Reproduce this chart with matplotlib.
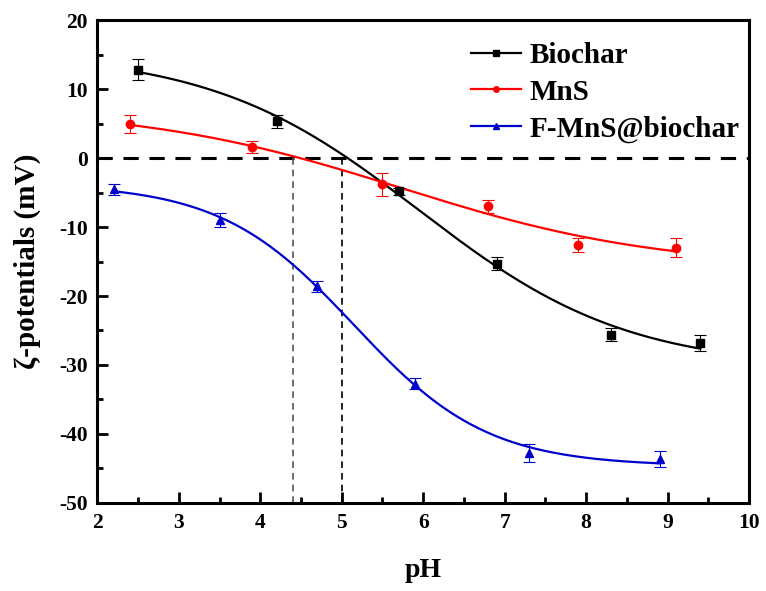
import numpy as np
import matplotlib
matplotlib.use("Agg")
from matplotlib import pyplot as plt
from matplotlib.ticker import MultipleLocator

plt.rcParams['font.family'] = ['Liberation Serif', 'DejaVu Serif']
plt.rcParams['font.weight'] = 'bold'
plt.rcParams['axes.unicode_minus'] = False

# data
ph_bio = [2.5, 4.2, 5.7, 6.9, 8.3, 9.4]
zeta_bio = [12.8, 5.3, -4.8, -15.3, -25.6, -26.8]
err_bio = [1.5, 1.0, 0.5, 1.0, 0.9, 1.2]

ph_mns = [2.4, 3.9, 5.5, 6.8, 7.9, 9.1]
zeta_mns = [4.9, 1.6, -3.8, -7.0, -12.6, -13.0]
err_mns = [1.3, 0.9, 1.7, 0.9, 1.0, 1.4]

ph_fmns = [2.2, 3.5, 4.7, 5.9, 7.3, 8.9]
zeta_fmns = [-4.5, -9.0, -18.6, -32.7, -42.8, -43.6]
err_fmns = [0.8, 1.0, 0.8, 0.8, 1.3, 1.2]

pzc = [4.4, 5.0]


def boltzmann_fit(x, y):
    # grid over x0/dx, A1/A2 by linear least squares
    x = np.asarray(x); y = np.asarray(y)
    best = None
    for x0 in np.linspace(3, 8, 201):
        for dx in np.linspace(0.3, 3, 136):
            s = 1 / (1 + np.exp((x - x0) / dx))
            M = np.column_stack([s, 1 - s])
            coef, *_ = np.linalg.lstsq(M, y, rcond=None)
            r = np.sum((M @ coef - y) ** 2)
            if best is None or r < best[0]:
                best = (r, x0, dx, coef)
    _, x0, dx, (a1, a2) = best
    xs = np.linspace(x.min(), x.max(), 200)
    s = 1 / (1 + np.exp((xs - x0) / dx))
    return xs, a1 * s + a2 * (1 - s)


fig, ax = plt.subplots(figsize=(7.66, 5.91), dpi=100)
fig.subplots_adjust(left=0.127, right=0.978, top=0.966, bottom=0.149)

ax.axhline(0, color='black', lw=2.2, ls=(0, (5, 3.5)), zorder=1)
ax.plot([pzc[0], pzc[0]], [-50, 0], color='#555555', lw=1.2, ls=(0, (4, 3)), zorder=1)
ax.plot([pzc[1], pzc[1]], [-50, 0], color='black', lw=1.2, ls=(0, (4, 3)), zorder=1)

series = [
    (ph_bio, zeta_bio, err_bio, 'black', 's', 'Biochar'),
    (ph_mns, zeta_mns, err_mns, 'red', 'o', 'MnS'),
    (ph_fmns, zeta_fmns, err_fmns, '#0000cc', '^', 'F-MnS@biochar'),
]
for x, y, e, c, m, lab in series:
    xs, ys = boltzmann_fit(x, y)
    ax.plot(xs, ys, color=c, lw=1.6, zorder=2)
    ax.errorbar(x, y, yerr=e, fmt='none', ecolor=c, elinewidth=0.8, capsize=4, capthick=0.8, zorder=3)
    ax.plot(x, y, ls='none', marker=m, color=c, ms=6, zorder=4)
    ax.plot([], [], color=c, marker=m, ms=4, lw=1.6, label=lab)

ax.set_xlim(2, 10)
ax.set_ylim(-50, 20)
ax.xaxis.set_major_locator(MultipleLocator(1))
ax.xaxis.set_minor_locator(MultipleLocator(0.5))
ax.yaxis.set_major_locator(MultipleLocator(10))
ax.yaxis.set_minor_locator(MultipleLocator(5))
ax.tick_params(which='both', direction='in', width=2, labelsize=15.5, top=False, right=False)
ax.tick_params(which='major', length=8, pad=7)
ax.tick_params(which='minor', length=4)
for sp in ax.spines.values():
    sp.set_linewidth(2.2)

ax.set_xlabel('pH', fontsize=20, fontweight='bold', labelpad=18)
ax.set_ylabel('ζ-potentials (mV)', fontsize=21, fontweight='bold', labelpad=13)

leg = ax.legend(loc='upper right', bbox_to_anchor=(1.017, 0.997), frameon=False, fontsize=21,
                handlelength=1.7, handletextpad=0.3, labelspacing=0.33, borderaxespad=0.3)

fig.savefig('out.png', dpi=100)
